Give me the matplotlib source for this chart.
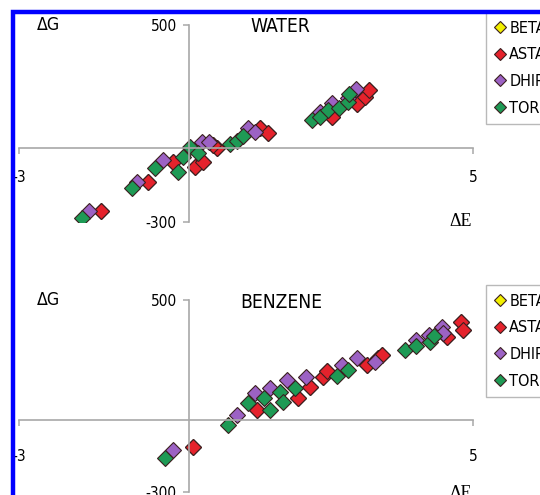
import matplotlib
matplotlib.use("Agg")
import matplotlib.pyplot as plt
from matplotlib import font_manager
from matplotlib.lines import Line2D
from matplotlib.patches import Rectangle

# the original uses a narrow Arial; take a narrow face if one is installed
fonts = font_manager.fontManager.ttflist
names = {f.name for f in fonts}
size_scale = 1.0
if 'Liberation Sans Narrow' in names:
    plt.rcParams['font.family'] = ['Liberation Sans Narrow', 'DejaVu Sans']
elif any(f.name == 'DejaVu Sans' and f.stretch == 'condensed' for f in fonts):
    plt.rcParams['font.family'] = ['DejaVu Sans']
    plt.rcParams['font.stretch'] = 'condensed'
    size_scale = 0.92
else:
    plt.rcParams['font.family'] = ['Liberation Sans', 'DejaVu Sans']
    size_scale = 0.85

W, H = 540, 495

series = ["BETA", "ASTA", "DHIR", "TORU"]
colors = ["#f2f000", "#e5222c", "#9c62c4", "#1e9a55"]

# WATER panel (BETA lies hidden under ASTA in the original)
asta_water_x = [-1.55, -0.72, -0.28, 0.11, 0.25, 0.49, 0.41, 1.25, 1.38, 2.52, 2.96, 3.10, 3.17]
asta_water_y = [-256, -138, -57, -77, -57, 0, 12, 81, 61, 126, 179, 207, 236]
dhir_water_x = [-1.76, -0.92, -0.46, 0.23, 0.34, 1.04, 1.16, 2.31, 2.52, 2.80, 2.93]
dhir_water_y = [-256, -138, -49, 24, 24, 81, 65, 146, 183, 203, 240]
toru_water_x = [-1.89, -1.01, -0.60, -0.19, -0.11, 0.02, 0.16, 0.72, 0.85, 0.95,
                2.17, 2.31, 2.45, 2.63, 2.79, 2.82]
toru_water_y = [-285, -163, -81, -98, -37, 4, -20, 16, 28, 49,
                114, 126, 154, 163, 187, 220]
beta_water_x = asta_water_x
beta_water_y = asta_water_y

# BENZENE panel
asta_benz_x = [0.07, 1.20, 1.92, 2.13, 2.35, 2.43, 3.14, 3.32, 3.40, 4.55, 4.78, 4.83]
asta_benz_y = [-113, 42, 92, 138, 179, 204, 229, 258, 271, 346, 408, 375]
dhir_benz_x = [-0.28, 0.85, 1.16, 1.43, 1.73, 2.05, 2.70, 2.96, 3.28, 3.99, 4.22, 4.46, 4.48]
dhir_benz_y = [-125, 21, 113, 133, 167, 179, 229, 258, 242, 333, 354, 388, 363]
toru_benz_x = [-0.42, 0.69, 1.04, 1.43, 1.31, 1.60, 1.66, 1.87, 2.61, 2.79, 3.81, 3.99, 4.25, 4.32]
toru_benz_y = [-158, -21, 71, 42, 92, 117, 75, 133, 183, 208, 292, 308, 325, 350]
beta_benz_x = asta_benz_x
beta_benz_y = asta_benz_y

water = [(beta_water_x, beta_water_y), (asta_water_x, asta_water_y),
         (dhir_water_x, dhir_water_y), (toru_water_x, toru_water_y)]
benzene = [(beta_benz_x, beta_benz_y), (asta_benz_x, asta_benz_y),
           (dhir_benz_x, dhir_benz_y), (toru_benz_x, toru_benz_y)]

x_ticks = [-3, 5]
y_ticks = [-300, 500]
axis_grey = "#a8a8a8"
fs = 12 * size_scale
fs_title = 15 * size_scale


def fx(px):
    return px / W


def fy(py):
    return 1 - py / H


fig = plt.figure(figsize=(W / 100, H / 100), dpi=100)


def make_panel(top_px, bottom_px, data, title, title_x, axis_px, xpad, legend_top):
    ax = fig.add_axes([fx(19), fy(bottom_px), (473 - 19) / W, (bottom_px - top_px) / H])
    ax.patch.set_visible(False)
    for (xs, ys), c in zip(data, colors):
        ax.plot(xs, ys, linestyle='none', marker='D', markersize=8,
                markerfacecolor=c, markeredgecolor="#3a1f1f", markeredgewidth=0.8)
    ax.set_xlim(-3, 5)
    ax.set_ylim(-300, 500)
    for s in ['top', 'right']:
        ax.spines[s].set_visible(False)
    ax.spines['left'].set_position(('data', 0))
    ax.spines['bottom'].set_position(('data', 0))
    for s in ['left', 'bottom']:
        ax.spines[s].set_color(axis_grey)
        ax.spines[s].set_linewidth(1.2)
    ax.set_xticks(x_ticks)
    ax.set_yticks(y_ticks)
    ax.set_xticklabels([str(t) for t in x_ticks])
    ax.set_yticklabels([str(t) for t in y_ticks])
    ax.tick_params(axis='x', direction='out', length=4, width=1.1, color=axis_grey,
                   pad=xpad, labelsize=fs)
    ax.tick_params(axis='y', direction='out', length=4, width=1.1, color=axis_grey,
                   pad=5, labelsize=fs)

    fig.text(fx(title_x), fy(top_px + 2), title, ha='left', va='center', fontsize=fs_title)
    fig.text(fx(48), fy(top_px), "\u0394G", ha='center', va='center', fontsize=fs * 1.15)
    fig.text(fx(461), fy(axis_px + 72), "\u0394E", ha='center', va='center',
             fontsize=13, family=['Liberation Serif', 'DejaVu Serif'], stretch='normal')

    handles = [Line2D([], [], linestyle='none', marker='D', markersize=6,
                      markerfacecolor=c, markeredgecolor="#3a1f1f", markeredgewidth=0.8)
               for c in colors]
    fig.legend(handles, series, loc='upper left',
               bbox_to_anchor=(fx(486), fy(legend_top)), bbox_transform=fig.transFigure,
               fontsize=fs * 1.05, frameon=True, fancybox=False, edgecolor=axis_grey,
               handlelength=0.6, handletextpad=0.3, labelspacing=0.72,
               borderpad=0.55, borderaxespad=0)
    return ax


make_panel(25, 222, water, "WATER", 250, 149, 12, 12)
make_panel(300, 492, benzene, "BENZENE", 240, 421, 17, 285)

# blue frame of the original clipping
fig.patches.append(Rectangle((fx(13), -0.2), 1.5, fy(12) + 0.2, transform=fig.transFigure,
                             fill=False, edgecolor="#0000ff", linewidth=3.2, zorder=10))

fig.savefig("out.png", dpi=100)
